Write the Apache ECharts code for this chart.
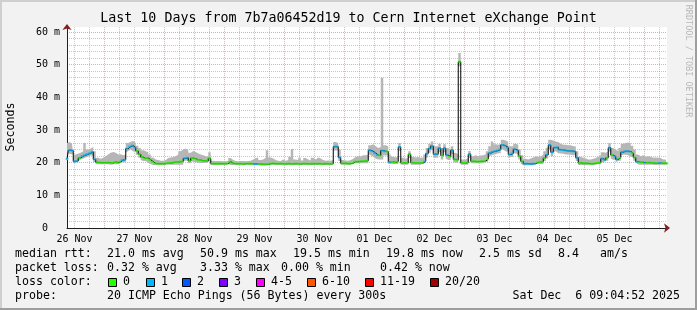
<!DOCTYPE html>
<html><head><meta charset="utf-8">
<script src="https://cdn.jsdelivr.net/npm/echarts@6/dist/echarts.min.js"></script>
<style>html,body{margin:0;padding:0;background:#f2f2f2}#c{width:697px;height:310px}</style>
</head><body><div id="c"></div>
<script>
// hourly samples starting 26 Nov 09:00 (241 points, 10 days)
const medianRtt = [
21.1,23.8,23.7,20.4,20.5,21.5,22.0,22.3,22.6,22.9,23.3,21.0,20.1,20.0,20.0,20.0,
20.0,20.0,19.9,20.2,20.0,20.3,20.8,20.9,24.3,24.9,25.2,24.6,23.6,22.6,21.7,21.3,21.4,20.9,20.3,19.8,19.7,19.7,19.7,19.7,
19.9,19.9,20.0,20.2,20.2,20.3,20.4,21.3,21.5,20.5,21.4,21.2,20.9,20.8,20.6,20.5,20.5,21.3,19.7,19.7,19.7,19.7,19.7,19.7,
19.7,20.3,19.8,19.7,19.7,19.7,19.6,19.7,19.7,19.7,19.7,19.6,19.6,19.6,19.5,19.5,19.5,19.7,19.8,19.7,19.7,19.7,19.7,19.6,
19.7,19.7,19.6,19.7,19.7,19.6,19.7,19.7,19.7,19.6,19.7,19.7,19.7,19.7,19.6,19.7,19.7,19.6,19.7,24.9,24.9,21.6,19.8,19.8,
19.7,19.7,19.8,20.3,20.3,20.4,20.4,20.5,20.6,23.8,23.5,22.9,22.3,22.2,23.7,23.5,23.4,20.2,20.2,20.1,20.3,24.8,19.9,19.9,
19.9,22.6,20.0,19.9,19.9,19.9,19.9,20.4,22.8,24.3,25.1,22.6,22.6,24.4,22.2,24.4,22.3,21.8,23.8,21.0,20.8,50.9,19.9,19.9,
20.0,22.6,20.4,20.4,20.3,20.4,20.4,20.5,21.1,22.9,23.3,23.5,23.7,24.0,25.4,25.2,24.6,22.5,22.8,24.1,23.8,22.0,20.4,19.7,
19.7,19.6,19.7,19.7,20.1,20.2,20.3,21.4,22.4,25.4,23.2,24.6,24.7,24.0,23.9,23.8,23.6,23.6,23.5,23.4,21.5,19.9,19.8,19.8,
19.8,19.7,19.7,19.8,19.9,20.0,21.2,20.8,21.5,24.6,22.3,21.9,21.0,21.5,23.2,23.5,23.5,23.4,22.9,21.6,20.3,20.1,20.1,20.0,
20.0,20.0,19.9,19.8,19.8,19.9,19.8,19.8,19.8
];
const smokeHi = [
26.0,26.3,25.8,22.5,22.8,23.0,23.5,26.0,24.0,24.3,24.8,23.5,21.5,21.2,21.5,22.0,
22.5,23.0,23.3,23.0,22.5,22.6,22.3,22.5,26.0,26.4,26.6,26.0,25.2,24.5,23.8,23.5,23.2,22.5,21.6,21.0,20.8,20.6,20.6,20.8,
21.4,21.6,21.7,22.0,22.5,23.5,24.0,24.3,23.8,23.0,23.6,23.3,22.8,22.5,22.3,22.0,21.8,23.2,20.6,20.5,20.5,20.5,20.4,20.4,
20.5,21.4,20.8,20.5,20.4,20.5,20.5,20.4,20.5,20.6,21.0,21.4,21.5,20.8,21.0,21.5,23.8,21.6,21.3,20.8,20.6,20.5,21.0,20.6,
20.8,21.8,24.2,21.0,20.8,21.5,20.7,21.4,21.0,20.7,21.5,21.0,21.6,21.3,20.8,20.6,20.7,20.6,20.8,26.3,26.0,24.0,20.8,20.7,
20.6,20.8,21.2,21.8,22.0,22.0,22.3,22.3,22.5,25.3,25.6,25.0,24.5,24.8,46.0,25.3,25.0,22.5,21.8,21.6,22.0,26.0,21.5,21.2,
21.6,23.5,21.8,21.6,21.7,21.5,21.6,22.5,24.5,25.8,26.5,25.0,25.0,25.8,24.5,25.6,24.5,24.0,25.0,23.0,22.5,53.6,21.0,21.0,
21.5,23.6,22.0,22.3,22.0,22.2,22.3,22.6,23.5,25.0,26.5,25.6,25.5,25.8,27.0,26.8,26.3,25.0,25.0,25.8,25.5,24.0,22.3,21.2,
21.0,21.3,21.6,22.0,21.8,22.0,22.5,23.5,24.6,27.0,26.8,26.5,26.3,25.8,25.5,25.5,25.3,25.3,25.0,25.0,23.5,21.8,21.5,21.3,
21.0,21.0,21.2,21.4,21.8,22.3,23.2,23.0,23.5,26.0,24.5,24.0,23.5,24.5,25.8,26.0,26.2,26.0,25.2,24.0,22.5,22.0,22.3,21.8,
22.0,21.8,21.5,21.6,21.5,21.4,21.0,21.0,20.8
];
const smokeLo = [
20.8,22.8,22.6,19.8,19.9,20.5,21.0,21.3,21.6,21.9,22.2,20.2,19.5,19.5,19.5,19.5,
19.5,19.5,19.4,19.5,19.5,19.5,20.0,20.1,23.0,23.6,24.0,23.4,22.4,21.5,20.8,20.5,20.5,20.0,19.6,19.3,19.3,19.3,19.3,19.3,
19.4,19.4,19.4,19.4,19.4,19.4,19.4,20.5,20.6,19.8,20.5,20.3,20.1,20.0,19.9,19.9,19.9,20.4,19.3,19.3,19.3,19.3,19.3,19.3,
19.3,19.6,19.3,19.3,19.3,19.3,19.2,19.3,19.3,19.3,19.3,19.2,19.2,19.2,19.1,19.1,19.1,19.3,19.3,19.3,19.3,19.3,19.3,19.2,
19.3,19.3,19.2,19.3,19.3,19.2,19.3,19.3,19.3,19.2,19.3,19.3,19.3,19.3,19.2,19.3,19.3,19.2,19.3,23.8,23.7,20.5,19.4,19.4,
19.4,19.4,19.4,19.8,19.8,19.8,19.8,19.8,19.8,22.6,22.3,21.8,21.2,21.0,21.0,22.3,22.2,19.6,19.6,19.6,19.6,23.6,19.4,19.4,
19.4,21.4,19.4,19.4,19.4,19.4,19.4,19.8,21.6,23.0,23.8,21.5,21.5,23.2,21.0,23.2,21.2,20.8,22.6,20.2,20.0,49.5,19.4,19.4,
19.4,21.5,19.8,19.8,19.8,19.8,19.8,19.8,20.3,21.8,22.1,22.4,22.6,22.9,24.2,24.0,23.4,21.4,21.7,23.0,22.7,21.0,19.7,19.2,
19.2,19.2,19.2,19.2,19.6,19.6,19.6,20.5,21.3,24.1,22.0,23.4,23.5,22.9,22.8,22.7,22.5,22.5,22.4,22.3,20.5,19.3,19.3,19.3,
19.3,19.3,19.3,19.3,19.4,19.5,20.3,20.0,20.6,23.4,21.3,20.9,20.1,20.6,22.1,22.4,22.4,22.3,21.8,20.6,19.6,19.4,19.4,19.4,
19.4,19.4,19.4,19.4,19.4,19.4,19.4,19.4,19.4
];
const lossLevel = [
1,1,1,1,1,0,1,1,1,1,1,1,0,0,0,0,
0,0,0,0,0,0,1,1,1,1,1,1,0,0,0,0,0,0,0,0,0,0,0,0,
0,0,0,0,0,0,0,1,1,0,0,0,0,0,0,0,0,0,0,0,0,0,0,0,
0,0,0,0,0,0,0,0,0,0,0,1,1,0,0,0,0,0,0,0,0,0,0,0,
0,0,0,0,0,0,0,0,0,0,0,0,0,0,0,0,0,0,0,1,1,1,0,0,
0,0,0,0,0,0,0,0,0,1,1,1,1,0,1,1,0,1,0,0,0,1,0,0,
0,0,0,0,0,0,0,1,1,1,1,1,1,1,0,1,1,0,1,0,0,0,0,0,
0,1,0,0,0,0,0,0,0,1,1,1,1,1,1,1,1,1,1,1,1,0,0,1,
1,1,1,1,0,0,0,0,1,1,1,1,1,1,1,1,1,1,1,1,1,0,0,0,
0,0,0,0,0,0,1,1,0,1,0,1,1,0,1,1,1,1,0,0,1,0,0,1,
0,0,0,0,0,1,0,0,0
];
const lossColors = ['#26ff00','#00b8ff','#0059ff','#7e00ff','#ff00ff','#ff5500','#ff0000','#a10000'];
const lossLabels = ['0','1','2','3','4-5','6-10','11-19','20/20'];
const monthNames = ['Jan','Feb','Mar','Apr','May','Jun','Jul','Aug','Sep','Oct','Nov','Dec'];
const statRtt = ['median rtt:','21.0 ms avg','50.9 ms max','19.5 ms min','19.8 ms now','2.5 ms sd','8.4','am/s'];
const statLoss = ['packet loss:','0.32 % avg','3.33 % max','0.00 % min','0.42 % now'];
const probeText = ['probe:','20 ICMP Echo Pings (56 Bytes) every 300s','Sat Dec  6 09:04:52 2025'];

const startUTC = Date.UTC(2025, 10, 26, 9);
const pad = n => (n < 10 ? '0' : '') + n;
const categories = medianRtt.map((_, i) => {
  const d = new Date(startUTC + i * 3600000);
  return pad(d.getUTCDate()) + ' ' + monthNames[d.getUTCMonth()] + ' ' + pad(d.getUTCHours());
});
const smokeBand = smokeHi.map((v, i) => +(v - smokeLo[i]).toFixed(2));

const FONT = 'DejaVu Sans Mono';
const MINOR = 'rgba(143,143,143,0.5)';
const MAJOR = 'rgba(222,79,79,0.5)';

const chart = echarts.init(document.getElementById('c'), null, {renderer: 'canvas'});

const graphics = [];
const txt = (x, y, s, extra) => graphics.push(Object.assign({type: 'text', x: x, y: y, silent: true,
  style: Object.assign({text: s, font: '11.6px "' + FONT + '"', fill: '#000', textVerticalAlign: 'middle', verticalAlign: 'middle'}, extra || {})}));
// frame
graphics.push({type: 'rect', shape: {x: 0, y: 0, width: 697, height: 2}, style: {fill: '#cfcfcf'}, silent: true});
graphics.push({type: 'rect', shape: {x: 0, y: 0, width: 2, height: 310}, style: {fill: '#cfcfcf'}, silent: true});
graphics.push({type: 'rect', shape: {x: 0, y: 308, width: 697, height: 2}, style: {fill: '#9e9e9e'}, silent: true});
graphics.push({type: 'rect', shape: {x: 695, y: 0, width: 2, height: 310}, style: {fill: '#9e9e9e'}, silent: true});
// axis title & watermark
graphics.push({type: 'text', x: 11, y: 127, rotation: Math.PI / 2, silent: true,
  style: {text: 'Seconds', font: '11.6px "' + FONT + '"', fill: '#000', align: 'center', verticalAlign: 'middle', textAlign: 'center', textVerticalAlign: 'middle'}});
graphics.push({type: 'text', x: 688, y: 61, rotation: -Math.PI / 2, silent: true,
  style: {text: 'RRDTOOL / TOBI OETIKER', font: '8.5px "' + FONT + '"', fill: 'rgba(0,0,0,0.25)', align: 'center', verticalAlign: 'middle', textAlign: 'center', textVerticalAlign: 'middle'}});
// legend lines
const rttX = [15, 107, 200, 293, 386, 479, 558, 600];
statRtt.forEach((s, i) => txt(rttX[i], 254, s));
const lossX = [15, 107, 200, 281, 380];
statLoss.forEach((s, i) => txt(lossX[i], 268, s));
txt(15, 282, 'loss color:');
const sqX = [108, 146, 182, 219, 256, 307, 365, 430];
lossLabels.forEach((s, i) => {
  graphics.push({type: 'rect', shape: {x: sqX[i] + 0.5, y: 278.5, width: 8, height: 8}, silent: true,
    style: {fill: lossColors[i], stroke: '#000', lineWidth: 1}});
  txt(sqX[i] + 15, 282, s);
});
txt(15, 296, probeText[0]);
txt(107, 296, probeText[1]);
txt(680, 296, probeText[2], {align: 'right', textAlign: 'right'});

chart.setOption({
  animation: false,
  backgroundColor: '#f2f2f2',
  title: {text: 'Last 10 Days from 7b7a06452d19 to Cern Internet eXchange Point', left: 'center', top: 12, padding: 0,
    textStyle: {fontFamily: FONT, fontSize: 13.3, fontWeight: 'normal', color: '#000'}},
  grid: {left: 67, right: 30, top: 27.1, bottom: 82, show: true, backgroundColor: '#ffffff', borderWidth: 0},
  xAxis: [{
    type: 'category', data: categories, boundaryGap: false,
    axisLine: {show: true, onZero: false, lineStyle: {color: '#1f1f1f', width: 1}},
    axisTick: {show: false},
    axisLabel: {interval: (i, v) => v.slice(7) === '12', formatter: v => v.slice(0, 6),
      fontFamily: FONT, fontSize: 10, color: '#000', margin: 6},
    splitLine: {show: true, interval: (i, v) => ['00', '06', '12', '18'].indexOf(v.slice(7)) >= 0,
      lineStyle: {color: [MINOR, MINOR, MAJOR, MINOR], type: [1, 1], width: 1}}
  }, {
    type: 'category', data: categories, boundaryGap: false, position: 'bottom',
    axisLine: {show: true, onZero: false, symbol: ['none', 'arrow'], symbolSize: [7, 6], symbolOffset: [0, 3],
      lineStyle: {color: '#801f1f', width: 0}},
    axisTick: {show: false}, axisLabel: {show: false}, splitLine: {show: false}
  }],
  yAxis: [{
    type: 'value', min: 0, max: 61.5, interval: 2,
    axisLine: {show: true, lineStyle: {color: '#1f1f1f', width: 1}},
    axisTick: {show: false},
    axisLabel: {showMaxLabel: false, formatter: v => (v % 10 === 0 ? (v === 0 ? '0  ' : v + ' m') : ''),
      fontFamily: FONT, fontSize: 10, color: '#000', margin: 7},
    splitLine: {show: true, showMaxLine: false,
      lineStyle: {color: [MAJOR, MINOR, MINOR, MINOR, MINOR], type: [1, 1], width: 1}}
  }, {
    type: 'value', min: 0, max: 61.5, position: 'left',
    axisLine: {show: true, symbol: ['none', 'arrow'], symbolSize: [7, 6], symbolOffset: [0, 3],
      lineStyle: {color: '#801f1f', width: 0}},
    axisTick: {show: false}, axisLabel: {show: false}, splitLine: {show: false}
  }],
  series: [
    {type: 'line', name: 'smokeBase', data: smokeLo, stack: 'smoke', step: 'middle', symbol: 'none',
      lineStyle: {width: 0, opacity: 0}, silent: true, z: 1},
    {type: 'line', name: 'smoke', data: smokeBand, stack: 'smoke', step: 'middle', symbol: 'none',
      lineStyle: {width: 0, opacity: 0}, areaStyle: {color: '#b6b6b6', opacity: 1}, silent: true, z: 2},
    {type: 'line', name: 'median', data: medianRtt, step: 'middle', symbol: 'none',
      lineStyle: {color: '#000', width: 1}, silent: true, z: 3},
    {type: 'scatter', name: 'loss', data: medianRtt, symbol: 'rect', symbolSize: [2.6, 2], silent: true, z: 4,
      itemStyle: {color: p => lossColors[lossLevel[p.dataIndex]]}}
  ],
  graphic: graphics
});
</script>
</body></html>
